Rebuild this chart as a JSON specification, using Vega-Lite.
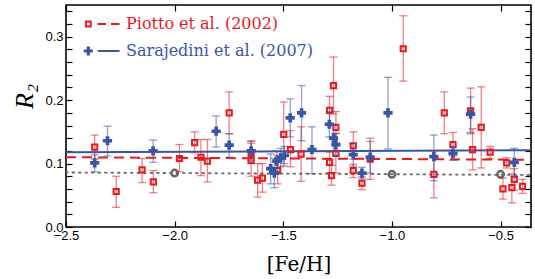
{
  "$schema": "https://vega.github.io/schema/vega-lite/v6.json",
  "width": 465,
  "height": 222,
  "autosize": "none",
  "padding": {"left": 66, "top": 5, "right": 4, "bottom": 52},
  "background": "white",
  "datasets": {
    "pts": [
      {"s": "P", "x": -2.368, "y": 0.126, "lo": 0.107, "hi": 0.145},
      {"s": "P", "x": -2.269, "y": 0.056, "lo": 0.031, "hi": 0.080},
      {"s": "P", "x": -2.150, "y": 0.090, "lo": 0.070, "hi": 0.108},
      {"s": "P", "x": -2.098, "y": 0.071, "lo": 0.054, "hi": 0.089},
      {"s": "P", "x": -1.978, "y": 0.108, "lo": 0.087, "hi": 0.130},
      {"s": "P", "x": -1.908, "y": 0.133, "lo": 0.117, "hi": 0.150},
      {"s": "P", "x": -1.879, "y": 0.110, "lo": 0.081, "hi": 0.138},
      {"s": "P", "x": -1.849, "y": 0.104, "lo": 0.071, "hi": 0.138},
      {"s": "P", "x": -1.749, "y": 0.180, "lo": 0.147, "hi": 0.213},
      {"s": "P", "x": -1.648, "y": 0.116, "lo": 0.100, "hi": 0.132},
      {"s": "P", "x": -1.648, "y": 0.105, "lo": 0.080, "hi": 0.136},
      {"s": "P", "x": -1.618, "y": 0.074, "lo": 0.047, "hi": 0.100},
      {"s": "P", "x": -1.596, "y": 0.077, "lo": 0.055, "hi": 0.100},
      {"s": "P", "x": -1.526, "y": 0.089, "lo": 0.068, "hi": 0.113},
      {"s": "P", "x": -1.498, "y": 0.146, "lo": 0.096, "hi": 0.197},
      {"s": "P", "x": -1.467, "y": 0.122, "lo": 0.095, "hi": 0.152},
      {"s": "P", "x": -1.418, "y": 0.115, "lo": 0.072, "hi": 0.158},
      {"s": "P", "x": -1.287, "y": 0.184, "lo": 0.162, "hi": 0.206},
      {"s": "P", "x": -1.269, "y": 0.223, "lo": 0.178, "hi": 0.268},
      {"s": "P", "x": -1.258, "y": 0.157, "lo": 0.132, "hi": 0.182},
      {"s": "P", "x": -1.287, "y": 0.102, "lo": 0.086, "hi": 0.118},
      {"s": "P", "x": -1.278, "y": 0.081, "lo": 0.066, "hi": 0.097},
      {"s": "P", "x": -1.258, "y": 0.116, "lo": 0.085, "hi": 0.147},
      {"s": "P", "x": -1.178, "y": 0.128, "lo": 0.107, "hi": 0.150},
      {"s": "P", "x": -1.178, "y": 0.089, "lo": 0.078, "hi": 0.099},
      {"s": "P", "x": -1.138, "y": 0.069, "lo": 0.059, "hi": 0.079},
      {"s": "P", "x": -1.100, "y": 0.107, "lo": 0.075, "hi": 0.140},
      {"s": "P", "x": -0.948, "y": 0.281, "lo": 0.230, "hi": 0.333},
      {"s": "P", "x": -0.807, "y": 0.083, "lo": 0.046, "hi": 0.120},
      {"s": "P", "x": -0.759, "y": 0.180, "lo": 0.147, "hi": 0.213},
      {"s": "P", "x": -0.719, "y": 0.130, "lo": 0.112, "hi": 0.149},
      {"s": "P", "x": -0.638, "y": 0.183, "lo": 0.147, "hi": 0.219},
      {"s": "P", "x": -0.629, "y": 0.122, "lo": 0.090, "hi": 0.155},
      {"s": "P", "x": -0.589, "y": 0.157, "lo": 0.093, "hi": 0.221},
      {"s": "P", "x": -0.548, "y": 0.118, "lo": 0.108, "hi": 0.127},
      {"s": "P", "x": -0.472, "y": 0.101, "lo": 0.093, "hi": 0.109},
      {"s": "P", "x": -0.437, "y": 0.075, "lo": 0.058, "hi": 0.092},
      {"s": "P", "x": -0.489, "y": 0.060, "lo": 0.044, "hi": 0.077},
      {"s": "P", "x": -0.448, "y": 0.062, "lo": 0.038, "hi": 0.084},
      {"s": "P", "x": -0.399, "y": 0.064, "lo": 0.053, "hi": 0.075},
      {"s": "S", "x": -2.368, "y": 0.101, "lo": 0.087, "hi": 0.114},
      {"s": "S", "x": -2.309, "y": 0.136, "lo": 0.112, "hi": 0.159},
      {"s": "S", "x": -2.099, "y": 0.120, "lo": 0.102, "hi": 0.137},
      {"s": "S", "x": -1.809, "y": 0.151, "lo": 0.126, "hi": 0.175},
      {"s": "S", "x": -1.749, "y": 0.129, "lo": 0.110, "hi": 0.147},
      {"s": "S", "x": -1.648, "y": 0.120, "lo": 0.105, "hi": 0.135},
      {"s": "S", "x": -1.558, "y": 0.092, "lo": 0.068, "hi": 0.115},
      {"s": "S", "x": -1.541, "y": 0.085, "lo": 0.062, "hi": 0.108},
      {"s": "S", "x": -1.530, "y": 0.104, "lo": 0.088, "hi": 0.120},
      {"s": "S", "x": -1.512, "y": 0.109, "lo": 0.095, "hi": 0.124},
      {"s": "S", "x": -1.495, "y": 0.113, "lo": 0.100, "hi": 0.127},
      {"s": "S", "x": -1.468, "y": 0.172, "lo": 0.142, "hi": 0.202},
      {"s": "S", "x": -1.416, "y": 0.180, "lo": 0.136, "hi": 0.223},
      {"s": "S", "x": -1.368, "y": 0.122, "lo": 0.084, "hi": 0.158},
      {"s": "S", "x": -1.288, "y": 0.162, "lo": 0.142, "hi": 0.182},
      {"s": "S", "x": -1.269, "y": 0.140, "lo": 0.120, "hi": 0.160},
      {"s": "S", "x": -1.258, "y": 0.130, "lo": 0.112, "hi": 0.148},
      {"s": "S", "x": -1.178, "y": 0.114, "lo": 0.096, "hi": 0.132},
      {"s": "S", "x": -1.138, "y": 0.085, "lo": 0.076, "hi": 0.094},
      {"s": "S", "x": -1.100, "y": 0.110, "lo": 0.085, "hi": 0.135},
      {"s": "S", "x": -1.018, "y": 0.180, "lo": 0.123, "hi": 0.236},
      {"s": "S", "x": -0.807, "y": 0.111, "lo": 0.073, "hi": 0.145},
      {"s": "S", "x": -0.719, "y": 0.116, "lo": 0.105, "hi": 0.127},
      {"s": "S", "x": -0.638, "y": 0.178, "lo": 0.149, "hi": 0.205},
      {"s": "S", "x": -0.437, "y": 0.102, "lo": 0.080, "hi": 0.124}
    ],
    "fits": [
      {"f": "S", "x": -2.5, "y": 0.118},
      {"f": "S", "x": -0.36, "y": 0.121},
      {"f": "P", "x": -2.5, "y": 0.110},
      {"f": "P", "x": -0.36, "y": 0.106},
      {"f": "G", "x": -2.5, "y": 0.086},
      {"f": "G", "x": -0.36, "y": 0.082}
    ],
    "ref": [
      {"x": -2.0, "y": 0.085},
      {"x": -1.0, "y": 0.083},
      {"x": -0.5, "y": 0.083}
    ]
  },
  "resolve": {"scale": {"shape": "independent"}, "legend": {"shape": "independent"}},
  "layer": [
    {
      "data": {"name": "fits"},
      "transform": [{"filter": "datum.f == 'G'"}],
      "mark": {"type": "line", "color": "#666666", "strokeWidth": 1.8, "strokeDash": [1.6, 4.9], "strokeCap": "round", "clip": true},
      "encoding": {
        "x": {"field": "x", "type": "quantitative", "scale": {"domain": [-2.5, -0.36], "nice": false, "zero": false},
          "axis": {"orient": "top", "values": [-2.5, -2, -1.5, -1, -0.5], "labels": false, "title": null}},
        "y": {"field": "y", "type": "quantitative", "scale": {"domain": [0, 0.35], "nice": false, "zero": false},
          "axis": {"orient": "right", "values": [0, 0.02, 0.04, 0.06, 0.08, 0.1, 0.12, 0.14, 0.16, 0.18, 0.2, 0.22, 0.24, 0.26, 0.28, 0.3, 0.32, 0.34], "labels": false, "title": null}}
      }
    },
    {
      "data": {"name": "fits"},
      "transform": [{"filter": "datum.f == 'S'"}],
      "mark": {"type": "line", "color": "#3a55a6", "strokeWidth": 2, "clip": true},
      "encoding": {
        "x": {"field": "x", "type": "quantitative", "axis": null},
        "y": {"field": "y", "type": "quantitative", "axis": null}
      }
    },
    {
      "data": {"name": "fits"},
      "transform": [{"filter": "datum.f == 'P'"}],
      "mark": {"type": "line", "color": "#e8191f", "strokeWidth": 2, "strokeDash": [10, 6], "clip": true},
      "encoding": {
        "x": {"field": "x", "type": "quantitative", "axis": null},
        "y": {"field": "y", "type": "quantitative", "axis": null}
      }
    },
    {
      "data": {"name": "ref"},
      "mark": {"type": "point", "shape": "circle", "filled": false, "size": 42, "strokeWidth": 2.5, "color": "#666666", "opacity": 1},
      "encoding": {
        "x": {"field": "x", "type": "quantitative", "axis": null},
        "y": {"field": "y", "type": "quantitative", "axis": null}
      }
    },
    {
      "data": {"name": "pts"},
      "transform": [{"filter": "datum.s == 'P'"}],
      "mark": {"type": "errorbar", "ticks": true, "size": 8, "thickness": 1.3, "opacity": 0.55, "color": "#e8191f"},
      "encoding": {
        "x": {"field": "x", "type": "quantitative", "axis": null},
        "y": {"field": "lo", "type": "quantitative", "axis": null},
        "y2": {"field": "hi"}
      }
    },
    {
      "data": {"name": "pts"},
      "transform": [{"filter": "datum.s == 'P'"}],
      "mark": {"type": "point", "shape": "square", "filled": false, "size": 27, "strokeWidth": 2, "opacity": 1, "color": "#e8191f"},
      "encoding": {
        "x": {"field": "x", "type": "quantitative",
          "axis": {"orient": "bottom", "values": [-2.5, -2, -1.5, -1, -0.5], "format": ".1f", "title": "[Fe/H]",
            "titleFont": "DejaVu Serif", "titleFontSize": 20, "titleFontWeight": "normal", "titleColor": "black",
            "titleBaseline": "alphabetic", "titleY": 43, "labelPadding": 8}},
        "y": {"field": "y", "type": "quantitative",
          "axis": {"orient": "left", "values": [0, 0.02, 0.04, 0.06, 0.08, 0.1, 0.12, 0.14, 0.16, 0.18, 0.2, 0.22, 0.24, 0.26, 0.28, 0.3, 0.32, 0.34],
            "labelExpr": "abs(datum.value*10 - round(datum.value*10)) < 0.001 ? format(datum.value, '.1f') : ''",
            "title": "R₂", "titleFont": "Liberation Serif", "titleFontStyle": "italic", "titleFontSize": 26, "titleFontWeight": "normal", "titleColor": "black",
            "titleAngle": -90, "titleBaseline": "alphabetic", "titleX": -34, "titleY": 91, "titleAlign": "center", "labelPadding": 9}}
      }
    },
    {
      "data": {"name": "pts"},
      "transform": [{"filter": "datum.s == 'S'"}],
      "mark": {"type": "errorbar", "ticks": true, "size": 8, "thickness": 1.3, "opacity": 0.55, "color": "#3a55a6"},
      "encoding": {
        "x": {"field": "x", "type": "quantitative", "axis": null},
        "y": {"field": "lo", "type": "quantitative", "axis": null},
        "y2": {"field": "hi"}
      }
    },
    {
      "data": {"name": "pts"},
      "transform": [{"filter": "datum.s == 'S'"}],
      "mark": {"type": "point", "shape": "cross", "filled": true, "size": 85, "opacity": 1, "color": "#3a55a6"},
      "encoding": {
        "x": {"field": "x", "type": "quantitative", "axis": null},
        "y": {"field": "y", "type": "quantitative", "axis": null}
      }
    },
    {
      "data": {"name": "pts"},
      "transform": [{"filter": "false"}],
      "mark": {"type": "point", "filled": false, "size": 256, "strokeWidth": 2, "opacity": 1, "color": "#e8191f"},
      "encoding": {
        "x": {"field": "x", "type": "quantitative", "axis": null},
        "y": {"field": "y", "type": "quantitative", "axis": null},
        "shape": {"field": "s", "type": "nominal",
          "scale": {"domain": ["P"], "range": ["M-2.075,-0.3H-1.475V0.3H-2.075Z M-0.625,0H0.4375 M1.0625,0H2.125"]},
          "legend": {"orient": "none", "legendX": 27.5, "legendY": 10, "title": null, "padding": 0,
            "labelExpr": "'Piotto et al. (2002)'", "labelColor": "#e8191f",
            "labelFont": "DejaVu Serif", "labelFontSize": 16, "labelOffset": 14.5, "labelLimit": 400,
            "symbolSize": 256, "symbolStrokeWidth": 2, "symbolStrokeColor": "#e8191f", "symbolFillColor": "transparent", "symbolOpacity": 1}}
      }
    },
    {
      "data": {"name": "pts"},
      "transform": [{"filter": "false"}],
      "mark": {"type": "point", "filled": false, "size": 256, "strokeWidth": 2, "opacity": 1, "color": "#3a55a6"},
      "encoding": {
        "x": {"field": "x", "type": "quantitative", "axis": null},
        "y": {"field": "y", "type": "quantitative", "axis": null},
        "shape": {"field": "s", "type": "nominal",
          "scale": {"domain": ["S"], "range": ["M-1.85,-0.4375H-1.7V-0.075H-1.3375V0.075H-1.7V0.4375H-1.85V0.075H-2.2125V-0.075H-1.85Z M-0.6,0H2.125"]},
          "legend": {"orient": "none", "legendX": 27.5, "legendY": 37, "title": null, "padding": 0,
            "labelExpr": "'Sarajedini et al. (2007)'", "labelColor": "#3a55a6",
            "labelFont": "DejaVu Serif", "labelFontSize": 16, "labelOffset": 14.5, "labelLimit": 400,
            "symbolSize": 256, "symbolStrokeWidth": 2, "symbolStrokeColor": "#3a55a6", "symbolFillColor": "#3a55a6", "symbolOpacity": 1}}
      }
    }
  ],
  "config": {
    "view": {"stroke": "black", "strokeWidth": 1.6},
    "axis": {"domain": false, "grid": false, "tickColor": "black", "tickSize": -6, "tickWidth": 1.2, "labelFlush": false,
      "labelFont": "Liberation Sans", "labelFontSize": 13, "labelColor": "black"}
  }
}
